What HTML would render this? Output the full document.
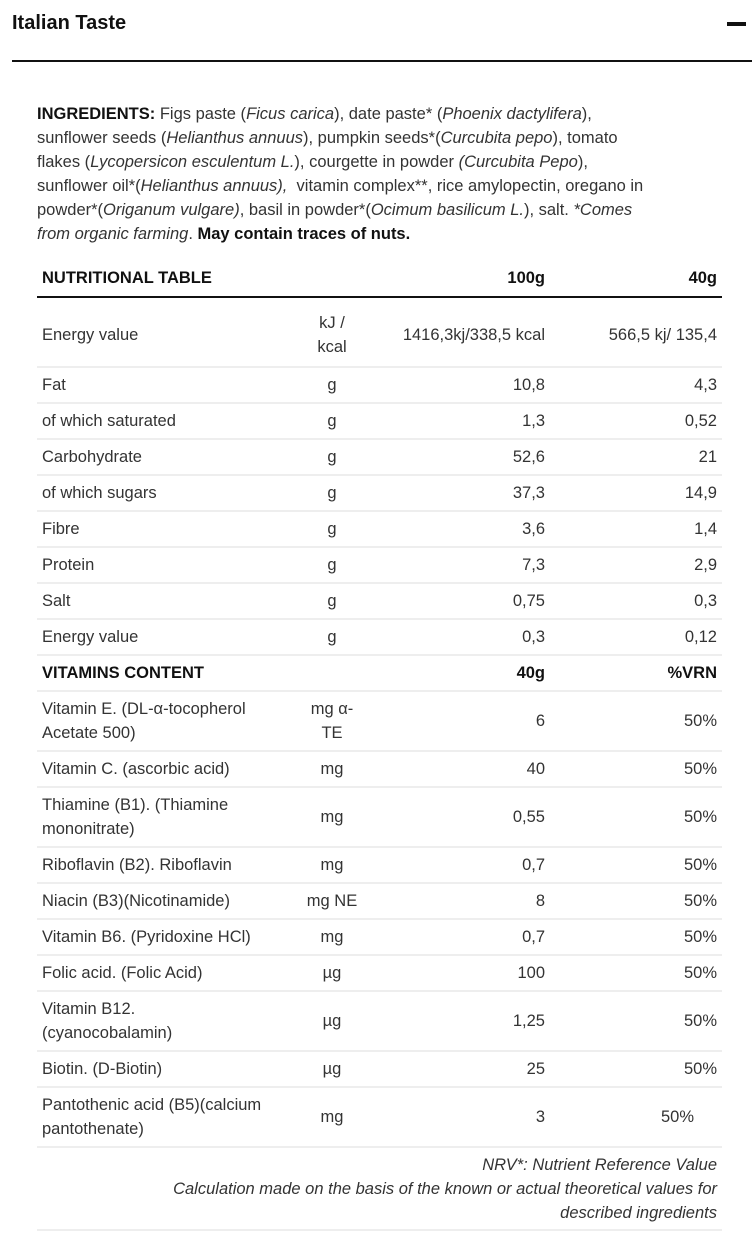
<!DOCTYPE html>
<html><head><meta charset="utf-8">
<style>
*{margin:0;padding:0;box-sizing:border-box}
body{width:752px;height:1254px;background:#fff;font-family:"Liberation Sans",Arial,sans-serif;color:#222;position:relative;overflow:hidden}
.title{position:absolute;left:12px;top:12px;font-size:20px;font-weight:bold;color:#111}
.minus{position:absolute;left:727px;top:22px;width:19px;height:4px;background:#111}
.topline{position:absolute;left:12px;top:60px;width:740px;height:2px;background:#111}
.ingr{position:absolute;left:37px;top:102px;font-size:16.5px;line-height:24px;white-space:nowrap;color:#333}
.ingr b{color:#111}
.tbl{position:absolute;left:37px;top:260px;width:685px;font-size:16.5px;color:#333}
.row{position:relative;border-bottom:2px solid #eee;line-height:24px}
.row.head{border-bottom:2px solid #111;height:38px;font-weight:bold;color:#111}
.row.vhead{font-weight:bold;color:#111}
.c{position:absolute;top:50%;transform:translateY(-50%)}
.n{left:5px}
.u{left:255px;width:80px;text-align:center}
.a{right:177px;text-align:right}
.b{right:5px;text-align:right}
.foot{position:absolute;left:37px;top:1153px;width:680px;text-align:right;font-style:italic;font-size:16.5px;line-height:24px;color:#333}
.footline{position:absolute;left:37px;top:1229px;width:685px;height:2px;background:#eee}
</style></head><body>
<div class="title">Italian Taste</div>
<div class="minus"></div>
<div class="topline"></div>
<div class="ingr"><b>INGREDIENTS:</b> Figs paste (<i>Ficus carica</i>), date paste* (<i>Phoenix dactylifera</i>),<br>sunflower seeds (<i>Helianthus annuus</i>), pumpkin seeds*(<i>Curcubita pepo</i>), tomato<br>flakes (<i>Lycopersicon esculentum L.</i>), courgette in powder <i>(Curcubita Pepo</i>),<br>sunflower oil*(<i>Helianthus annuus),</i>&nbsp; vitamin complex**, rice amylopectin, oregano in<br>powder*(<i>Origanum vulgare)</i>, basil in powder*(<i>Ocimum basilicum L.</i>), salt. <i>*Comes<br>from organic farming</i>. <b>May contain traces of nuts.</b></div>
<div class="tbl">
<div class="row head"><span class="c n">NUTRITIONAL TABLE</span><span class="c a">100g</span><span class="c b">40g</span></div>
<div class="row" style="height:70px"><span class="c n" style="top:54%">Energy value</span><span class="c u" style="top:54%">kJ /<br>kcal</span><span class="c a" style="top:54%">1416,3kj/338,5 kcal</span><span class="c b" style="top:54%">566,5 kj/ 135,4</span></div>
<div class="row" style="height:36px"><span class="c n">Fat</span><span class="c u">g</span><span class="c a">10,8</span><span class="c b">4,3</span></div>
<div class="row" style="height:36px"><span class="c n">of which saturated</span><span class="c u">g</span><span class="c a">1,3</span><span class="c b">0,52</span></div>
<div class="row" style="height:36px"><span class="c n">Carbohydrate</span><span class="c u">g</span><span class="c a">52,6</span><span class="c b">21</span></div>
<div class="row" style="height:36px"><span class="c n">of which sugars</span><span class="c u">g</span><span class="c a">37,3</span><span class="c b">14,9</span></div>
<div class="row" style="height:36px"><span class="c n">Fibre</span><span class="c u">g</span><span class="c a">3,6</span><span class="c b">1,4</span></div>
<div class="row" style="height:36px"><span class="c n">Protein</span><span class="c u">g</span><span class="c a">7,3</span><span class="c b">2,9</span></div>
<div class="row" style="height:36px"><span class="c n">Salt</span><span class="c u">g</span><span class="c a">0,75</span><span class="c b">0,3</span></div>
<div class="row" style="height:36px"><span class="c n">Energy value</span><span class="c u">g</span><span class="c a">0,3</span><span class="c b">0,12</span></div>
<div class="row vhead" style="height:36px"><span class="c n">VITAMINS CONTENT</span><span class="c a">40g</span><span class="c b">%VRN</span></div>
<div class="row" style="height:60px"><span class="c n">Vitamin E. (DL-α-tocopherol<br>Acetate 500)</span><span class="c u">mg α-<br>TE</span><span class="c a">6</span><span class="c b">50%</span></div>
<div class="row" style="height:36px"><span class="c n">Vitamin C. (ascorbic acid)</span><span class="c u">mg</span><span class="c a">40</span><span class="c b">50%</span></div>
<div class="row" style="height:60px"><span class="c n">Thiamine (B1). (Thiamine<br>mononitrate)</span><span class="c u">mg</span><span class="c a">0,55</span><span class="c b">50%</span></div>
<div class="row" style="height:36px"><span class="c n">Riboflavin (B2). Riboflavin</span><span class="c u">mg</span><span class="c a">0,7</span><span class="c b">50%</span></div>
<div class="row" style="height:36px"><span class="c n">Niacin (B3)(Nicotinamide)</span><span class="c u">mg NE</span><span class="c a">8</span><span class="c b">50%</span></div>
<div class="row" style="height:36px"><span class="c n">Vitamin B6. (Pyridoxine HCl)</span><span class="c u">mg</span><span class="c a">0,7</span><span class="c b">50%</span></div>
<div class="row" style="height:36px"><span class="c n">Folic acid. (Folic Acid)</span><span class="c u">µg</span><span class="c a">100</span><span class="c b">50%</span></div>
<div class="row" style="height:60px"><span class="c n">Vitamin B12.<br>(cyanocobalamin)</span><span class="c u">µg</span><span class="c a">1,25</span><span class="c b">50%</span></div>
<div class="row" style="height:36px"><span class="c n">Biotin. (D-Biotin)</span><span class="c u">µg</span><span class="c a">25</span><span class="c b">50%</span></div>
<div class="row" style="height:60px"><span class="c n">Pantothenic acid (B5)(calcium<br>pantothenate)</span><span class="c u">mg</span><span class="c a">3</span><span class="c b" style="right:28px">50%</span></div>
</div>
<div class="foot">NRV*: Nutrient Reference Value<br>Calculation made on the basis of the known or actual theoretical values for<br>described ingredients</div>
<div class="footline"></div>
</body></html>
